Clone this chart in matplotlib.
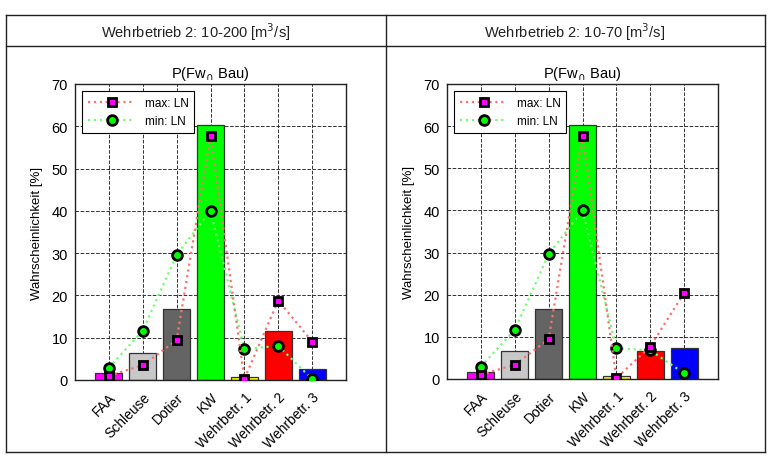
import matplotlib
matplotlib.use("Agg")
import matplotlib.pyplot as plt
from matplotlib.lines import Line2D
import numpy as np

plt.rcParams['font.family'] = ['Liberation Sans', 'DejaVu Sans']

categories = ["FAA", "Schleuse", "Dotier", "KW", "Wehrbetr. 1", "Wehrbetr. 2", "Wehrbetr. 3"]
bar_colors = ["#ff00ff", "#c8c8c8", "#646464", "#00ff00", "#ffff00", "#ff0000", "#0000ff"]

headers = ["Wehrbetrieb 2: 10-200 [m$^3$/s]", "Wehrbetrieb 2: 10-70 [m$^3$/s]"]

bars_left = [1.7, 6.5, 16.7, 60.3, 0.6, 11.5, 2.5]
max_left = [1.0, 3.5, 9.4, 57.7, 0.3, 18.8, 9.1]
min_left = [2.9, 11.7, 29.6, 40.0, 7.3, 8.1, 0.2]

bars_right = [1.6, 6.6, 16.7, 60.3, 0.6, 6.6, 7.4]
max_right = [1.0, 3.4, 9.4, 57.7, 0.2, 7.7, 20.4]
min_right = [2.9, 11.7, 29.6, 40.0, 7.3, 6.8, 1.35]

W, H = 773, 460
fig = plt.figure(figsize=(W / 100, H / 100), dpi=100)

def fx(px):
    return px / W

def fy(py):
    return 1 - py / H

def hline(x0, x1, y, lw=1.0):
    fig.add_artist(Line2D([fx(x0), fx(x1)], [fy(y), fy(y)], color="#222222", lw=lw))

def vline(x, y0, y1, lw=1.0):
    fig.add_artist(Line2D([fx(x), fx(x)], [fy(y0), fy(y1)], color="#222222", lw=lw))

hline(6, 765, 16)
hline(6, 765, 47)
hline(6, 765, 453)
vline(6, 16, 453)
vline(765, 16, 453)
vline(386, 16, 453)

fig.text(fx(196), fy(32), headers[0], ha="center", va="center", fontsize=10.5, color="#222222")
fig.text(fx(575), fy(32), headers[1], ha="center", va="center", fontsize=10.5, color="#222222")

def panel(rect, bars, mx, mn):
    ax = fig.add_axes(rect)
    x = np.arange(1, len(categories) + 1)
    ax.bar(x, bars, width=0.8, color=bar_colors, edgecolor="#333333", linewidth=0.9, zorder=2)
    ax.plot(x, mx, linestyle=":", color="#ff7070", lw=1.6, marker="s", markersize=6,
            markerfacecolor="#ff00ff", markeredgecolor="black", markeredgewidth=2.0,
            label="max: LN", zorder=4)
    ax.plot(x, mn, linestyle=":", color="#70ff70", lw=1.6, marker="o", markersize=7,
            markerfacecolor="#00ff00", markeredgecolor="black", markeredgewidth=2.0,
            label="min: LN", zorder=3)
    ax.set_xlim(0, 8)
    ax.set_ylim(0, 70)
    ax.set_xticks(x)
    ax.set_xticklabels(categories, rotation=45, ha="right", rotation_mode="anchor", fontsize=10)
    ax.set_yticks(np.arange(0, 71, 10))
    ax.tick_params(axis="y", labelsize=10.5, length=0, pad=5)
    ax.tick_params(axis="x", length=0, pad=7)
    ax.grid(True, linestyle="--", color="#333333", lw=0.7, zorder=0)
    ax.set_axisbelow(True)
    for s in ax.spines.values():
        s.set_color("#222222")
        s.set_linewidth(1.0)
    ax.set_ylabel("Wahrscheinlichkeit [%]", fontsize=9.5, labelpad=6)
    ax.set_title("P(Fw$_{\\cap}$ Bau)", fontsize=10.5, pad=5)
    leg = ax.legend(loc="upper left", fontsize=8.5, frameon=True, fancybox=False,
                    edgecolor="black", framealpha=1, handlelength=4.0,
                    borderaxespad=0.6, labelspacing=0.5, borderpad=0.5)
    leg.get_frame().set_linewidth(0.8)
    return ax

panel([fx(75), fy(381), 271 / W, 296 / H], bars_left, max_left, min_left)
panel([fx(447), fy(380), 271 / W, 295 / H], bars_right, max_right, min_right)

fig.savefig("out.png", dpi=100)
